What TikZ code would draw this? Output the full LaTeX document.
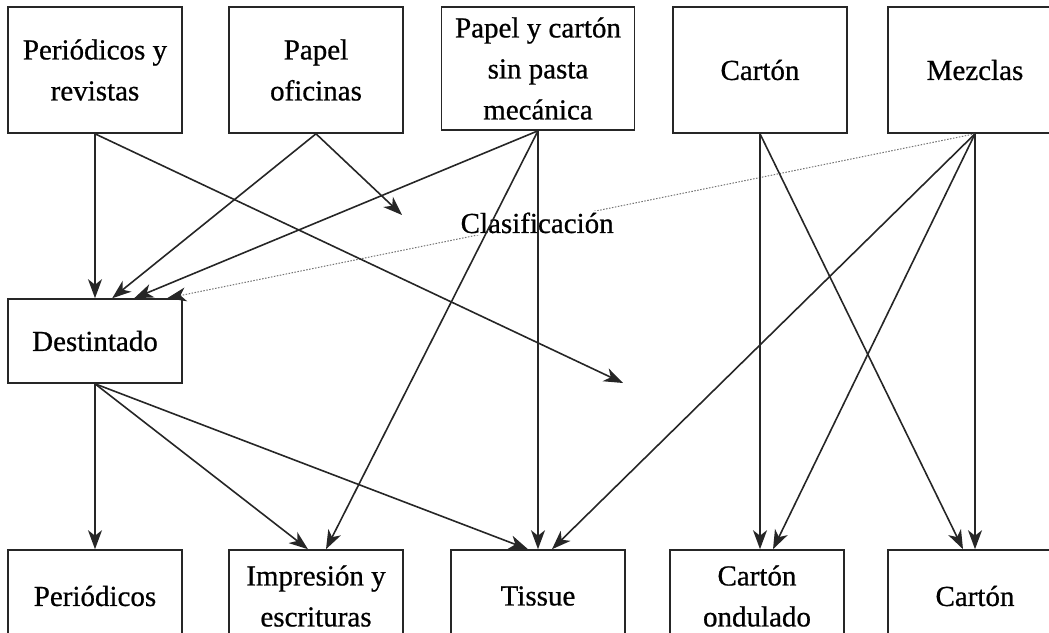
\documentclass[tikz,border=0pt]{standalone}
\usepackage{fontspec}
\setmainfont{Liberation Serif}
\newfontfamily\semiserif{Liberation Serif}[FakeBold=0.7]
\usetikzlibrary{arrows.meta,calc}
\begin{document}
\begin{tikzpicture}[x=1pt,y=-1pt,
  box/.style={draw=black!85, line width=1.6pt, minimum width=174pt, align=center, inner sep=0pt, font=\semiserif\fontsize{29}{41}\selectfont},
  arr/.style={draw=black!85, line width=1.6pt, -{Stealth[length=19pt,width=14pt,inset=5.5pt]}},
  dotarr/.style={draw=black!55, line width=1pt, dash pattern=on 1.5pt off 1.5pt, -{Stealth[length=19pt,width=14pt,inset=5.5pt,color=black!85]}},
  lbl/.style={fill=white, inner xsep=10pt, inner ysep=2pt, font=\semiserif\fontsize{29}{41}\selectfont}]
\useasboundingbox (0,0) rectangle (1049,632);
\clip (0,0) rectangle (1049,632);
% top row
\node[box, minimum height=126pt] (pr) at (95,70) {Periódicos y\\revistas};
\node[box, minimum height=126pt] (po) at (316,70) {Papel\\oficinas};
\node[box, minimum height=123pt, minimum width=193pt] (pc) at (538,68.5) {Papel y cartón\\sin pasta\\mecánica};
\node[box, minimum height=126pt] (ca) at (760,70) {Cartón};
\node[box, minimum height=126pt] (me) at (975,70) {Mezclas};
% middle
\node[box, minimum height=84pt] (de) at (95,341) {Destintado};
% bottom row
\node[box, minimum height=92pt] (bp) at (95,596) {Periódicos};
\node[box, minimum height=92pt] (bi) at (316,596) {Impresión y\\escrituras};
\node[box, minimum height=92pt] (bt) at (538,596) {Tissue};
\node[box, minimum height=92pt] (bo) at (757,596) {Cartón\\ondulado};
\node[box, minimum height=92pt] (bc) at (975,596) {Cartón};
% free ends
\coordinate (f1) at (623,383);
\coordinate (f2) at (402,215);
% dotted classification line
\draw[dotarr] (me.south) -- node[lbl, pos=0.542] (cl) {Clasificación} ($(de.north west)+(160,0)$);
% connectors
\draw[arr] (pr.south) -- (de.north);
\draw[arr] (pr.south) -- (f1);
\draw[arr] (po.south) -- (f2);
\draw[arr] (po.south) -- ($(de.north west)+(105,0)$);
\draw[arr] (pc.south) -- ($(de.north west)+(127,0)$);
\draw[arr] (pc.south) -- ($(bi.north)+(10,0)$);
\draw[arr] (pc.south) -- (pc.south |- bt.north);
\draw[arr] (ca.south) -- (ca.south |- bo.north);
\draw[arr] (ca.south) -- ($(bc.north)+(-12,0)$);
\draw[arr] (me.south) -- ($(bt.north)+(14,0)$);
\draw[arr] (me.south) -- ($(bo.north)+(16,0)$);
\draw[arr] (me.south) -- (bc.north);
\draw[arr] (de.south) -- (bp.north);
\draw[arr] (de.south) -- ($(bi.north)+(-8,0)$);
\draw[arr] (de.south) -- ($(bt.north)+(-10,0)$);
\end{tikzpicture}
\end{document}
